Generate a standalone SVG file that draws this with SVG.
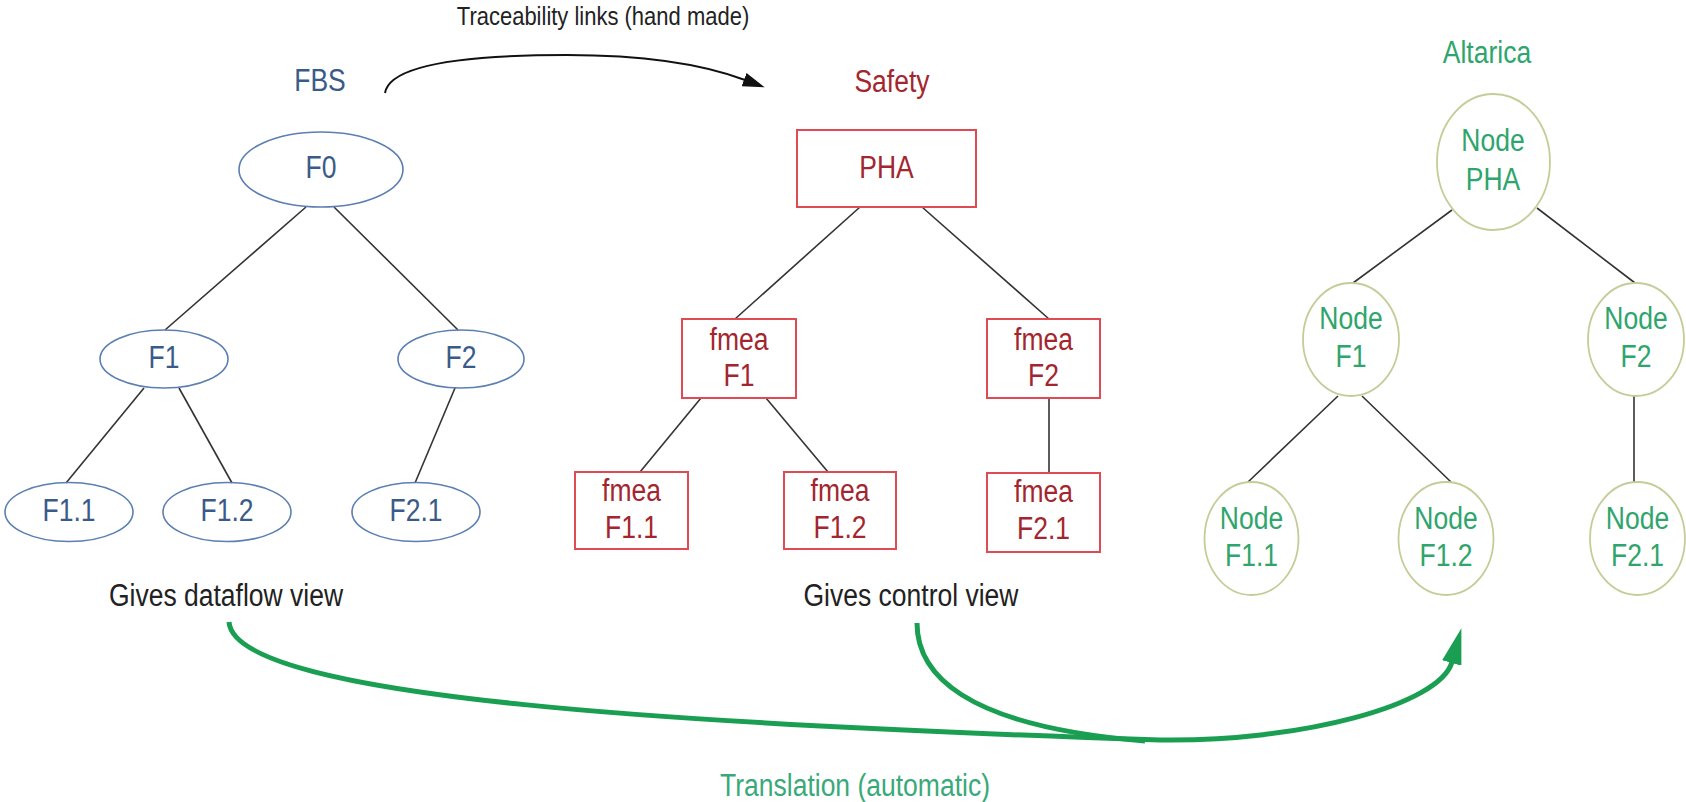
<svg xmlns="http://www.w3.org/2000/svg" width="1686" height="802" viewBox="0 0 1686 802">
  <style>
    text { font-family: "Liberation Sans", Arial, sans-serif; font-size: 26.5px; text-anchor: middle;
           transform-box: fill-box; transform-origin: 50% 81%; transform: scaleY(1.2); }
    .blue { fill: #3a5b88; }
    .red { fill: #a3262f; }
    .green { fill: #2ea56c; }
    .lgreen { fill: #3aa97a; }
    .black { fill: #222; }
    .small { font-size: 22px; }
    .fbs { fill: none; stroke: #5b7fb2; stroke-width: 1.6; }
    .saf { fill: none; stroke: #df4a55; stroke-width: 2; }
    .alt { fill: none; stroke: #c6cc98; stroke-width: 1.8; }
    .edge { stroke: #333; stroke-width: 1.6; fill: none; }
    .trace { stroke: #111; stroke-width: 2; fill: none; }
    .xlate { stroke: #1a9f52; stroke-width: 5; fill: none; }
  </style>
  <defs>
    <marker id="blackHead" markerUnits="userSpaceOnUse" markerWidth="22" markerHeight="14" viewBox="0 0 22 14" refX="1" refY="7" orient="auto">
      <path d="M0,0 L22,7 L0,14 z" fill="#111"/>
    </marker>
    <marker id="greenHead" markerUnits="userSpaceOnUse" markerWidth="36" markerHeight="20" viewBox="0 0 36 20" refX="1" refY="10" orient="auto">
      <path d="M0,0 L36,10 L0,20 z" fill="#1a9f52"/>
    </marker>
  </defs>
  <rect width="1686" height="802" fill="#fff"/>

  <!-- captions -->
  <g id="captions">
    <text class="black small" x="603" y="25">Traceability links (hand made)</text>
    <text class="blue" x="320" y="91">FBS</text>
    <text class="red" x="892" y="92">Safety</text>
    <text class="green" x="1487" y="63">Altarica</text>
    <text class="black" x="226" y="606">Gives dataflow view</text>
    <text class="black" x="911" y="606">Gives control view</text>
    <text class="lgreen" x="855" y="796">Translation (automatic)</text>
  </g>

  <!-- tree edges and translation arrows -->
  <g id="connectors">
    <line class="edge" x1="306" y1="207" x2="165" y2="330"/>
    <line class="edge" x1="334" y1="207" x2="458" y2="330"/>
    <line class="edge" x1="144" y1="388" x2="66" y2="483"/>
    <line class="edge" x1="179" y1="388" x2="232" y2="483"/>
    <line class="edge" x1="455" y1="388" x2="415" y2="483"/>

    <line class="edge" x1="860" y1="207" x2="735" y2="319"/>
    <line class="edge" x1="922" y1="207" x2="1049" y2="319"/>
    <line class="edge" x1="701" y1="398" x2="640" y2="472"/>
    <line class="edge" x1="766" y1="398" x2="828" y2="472"/>
    <line class="edge" x1="1049" y1="398" x2="1049" y2="473" stroke-width="2"/>

    <line class="edge" x1="1452" y1="210" x2="1353" y2="283"/>
    <line class="edge" x1="1537" y1="208" x2="1635" y2="283"/>
    <line class="edge" x1="1338" y1="396" x2="1248" y2="482"/>
    <line class="edge" x1="1362" y1="396" x2="1451" y2="482"/>
    <line class="edge" x1="1634" y1="396" x2="1634" y2="482" stroke="#555" stroke-width="2"/>

    <path class="trace" d="M385,93 C390,62 480,55 567,55 C650,55 705,65 745,80" marker-end="url(#blackHead)"/>

    <path class="xlate" d="M229,622 C235,700 700,725 1160,740 C1300,742 1440,705 1452,662" marker-end="url(#greenHead)"/>
    <path class="xlate" d="M917,623 C917,672 960,726 1145,741"/>
  </g>

  <!-- FBS tree -->
  <g id="fbs-F0"><ellipse class="fbs" cx="321" cy="169.5" rx="82" ry="37.5"/><text class="blue" x="321" y="178">F0</text></g>
  <g id="fbs-F1"><ellipse class="fbs" cx="164" cy="359" rx="64" ry="29"/><text class="blue" x="164" y="368">F1</text></g>
  <g id="fbs-F2"><ellipse class="fbs" cx="461" cy="359" rx="63" ry="29"/><text class="blue" x="461" y="368">F2</text></g>
  <g id="fbs-F1-1"><ellipse class="fbs" cx="69" cy="512" rx="64" ry="29.5"/><text class="blue" x="69" y="521">F1.1</text></g>
  <g id="fbs-F1-2"><ellipse class="fbs" cx="227" cy="512" rx="64" ry="29.5"/><text class="blue" x="227" y="521">F1.2</text></g>
  <g id="fbs-F2-1"><ellipse class="fbs" cx="416" cy="512" rx="64" ry="29.5"/><text class="blue" x="416" y="521">F2.1</text></g>

  <!-- Safety tree -->
  <g id="safety-PHA"><rect class="saf" x="797" y="130" width="179" height="77"/><text class="red" x="886.5" y="178">PHA</text></g>
  <g id="safety-F1"><rect class="saf" x="682" y="319" width="114" height="79"/><text class="red" x="739" y="350">fmea</text><text class="red" x="739" y="386">F1</text></g>
  <g id="safety-F2"><rect class="saf" x="987" y="319" width="113" height="79"/><text class="red" x="1043.5" y="350">fmea</text><text class="red" x="1043.5" y="386">F2</text></g>
  <g id="safety-F1-1"><rect class="saf" x="575" y="472" width="113" height="77"/><text class="red" x="631.5" y="501">fmea</text><text class="red" x="631.5" y="538">F1.1</text></g>
  <g id="safety-F1-2"><rect class="saf" x="784" y="472" width="112" height="77"/><text class="red" x="840" y="501">fmea</text><text class="red" x="840" y="538">F1.2</text></g>
  <g id="safety-F2-1"><rect class="saf" x="987" y="473" width="113" height="79"/><text class="red" x="1043.5" y="502">fmea</text><text class="red" x="1043.5" y="539">F2.1</text></g>

  <!-- Altarica tree -->
  <g id="alt-PHA"><ellipse class="alt" cx="1493.5" cy="162" rx="56.5" ry="68"/><text class="green" x="1493" y="151">Node</text><text class="green" x="1493" y="190">PHA</text></g>
  <g id="alt-F1"><ellipse class="alt" cx="1351" cy="339.5" rx="48" ry="56.5"/><text class="green" x="1351" y="329">Node</text><text class="green" x="1351" y="367">F1</text></g>
  <g id="alt-F2"><ellipse class="alt" cx="1636" cy="339.5" rx="48" ry="56.5"/><text class="green" x="1636" y="329">Node</text><text class="green" x="1636" y="367">F2</text></g>
  <g id="alt-F1-1"><ellipse class="alt" cx="1251.5" cy="538.5" rx="47" ry="56.5"/><text class="green" x="1251.5" y="529">Node</text><text class="green" x="1251.5" y="566">F1.1</text></g>
  <g id="alt-F1-2"><ellipse class="alt" cx="1446" cy="538.5" rx="47.5" ry="56.5"/><text class="green" x="1446" y="529">Node</text><text class="green" x="1446" y="566">F1.2</text></g>
  <g id="alt-F2-1"><ellipse class="alt" cx="1637.5" cy="538.5" rx="47.5" ry="56.5"/><text class="green" x="1637.5" y="529">Node</text><text class="green" x="1637.5" y="566">F2.1</text></g>
</svg>
